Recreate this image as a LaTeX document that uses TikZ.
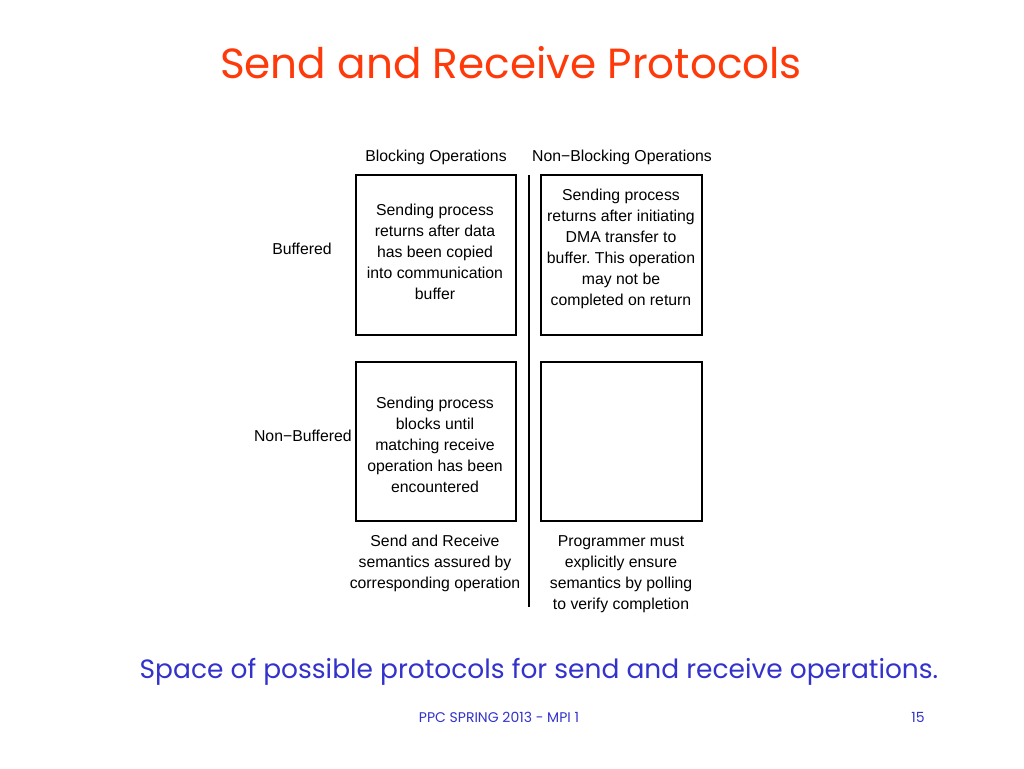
\documentclass[tikz,border=0pt]{standalone}
\usepackage{fontspec}
\setmainfont{Liberation Sans}
\newfontfamily\slidefont{Poppins}
\definecolor{titlered}{HTML}{FF3A0A}
\definecolor{slideblue}{HTML}{3333CC}
\frenchspacing
\begin{document}
\begin{tikzpicture}[x=0.75pt,y=-0.75pt,
  cell/.style={draw=black,line width=1pt},
  txt/.style={align=center,inner sep=0pt,font=\fontsize{11.85}{15.75}\selectfont},
  slidetitle/.style={inner sep=0pt,text=titlered,font=\slidefont\fontsize{31.6}{38}\selectfont},
  caption/.style={inner sep=0pt,text=slideblue,font=\slidefont\fontsize{19.85}{24}\selectfont},
  footer/.style={inner sep=0pt,text=slideblue,font=\slidefont\fontsize{10.5}{13}\selectfont}]
\useasboundingbox[fill=white] (0,0) rectangle (1024,768);
% title
\node[slidetitle] (title) at (511,63) {Send and Receive Protocols};
% headers
\node[txt] (hblk) at (436,157) {Blocking Operations};
\node[txt] (hnblk) at (622,157) {Non−Blocking Operations};
% row labels
\node[txt] (lbuf) at (302,249) {Buffered};
\node[txt,anchor=east] (lnbuf) at (352,436) {Non−Buffered};
% cells
\node[cell,minimum width=160*0.75pt,minimum height=160*0.75pt,inner sep=0pt] (c11) at (436,255) {};
\node[cell,minimum width=161*0.75pt,minimum height=160*0.75pt,inner sep=0pt] (c12) at (621.5,255) {};
\node[cell,minimum width=160*0.75pt,minimum height=159*0.75pt,inner sep=0pt] (c21) at (436,441.5) {};
\node[cell,minimum width=161*0.75pt,minimum height=159*0.75pt,inner sep=0pt] (c22) at (621.5,441.5) {};
% cell texts
\node[txt] (t11) at (435,252) {Sending process\\returns after data\\has been copied\\into communication\\buffer};
\node[txt] (t12) at (621,249) {Sending process\\returns after initiating\\DMA transfer to\\buffer. This operation\\may not be\\completed on return};
\node[txt] (t21) at (435,445) {Sending process\\blocks until\\matching receive\\operation has been\\encountered};
% bottom texts
\node[txt] (b1) at (435,563) {Send and Receive\\semantics assured by\\corresponding operation};
\node[txt] (b2) at (621,574) {Programmer must\\explicitly ensure\\semantics by polling\\to verify completion};
% divider
\coordinate (vtop) at (529,175);
\coordinate (vbot) at (529,607);
\draw[line width=1pt] (vtop) -- (vbot);
% caption and footer
\node[caption] (cap) at (539,672) {Space of possible protocols for send and receive operations.};
\node[footer] (foot) at (499,717) {PPC SPRING 2013 - MPI 1};
\node[footer,anchor=east] (page) at (925,717) {15};
\end{tikzpicture}
\end{document}
